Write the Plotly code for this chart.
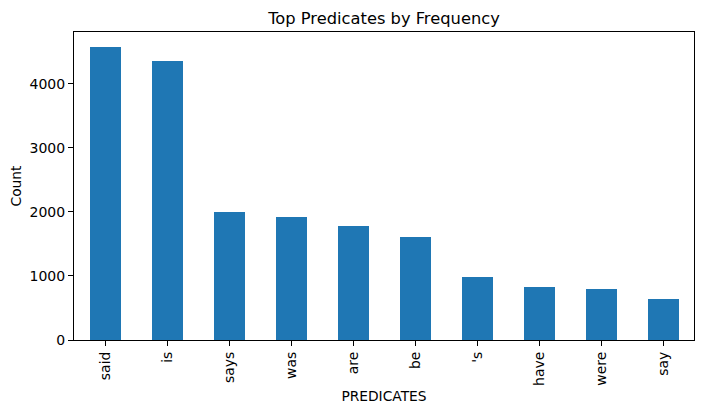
import plotly.graph_objects as go

predicates = ["said", "is", "says", "was", "are", "be", "'s", "have", "were", "say"]
counts = [4580, 4363, 1997, 1924, 1784, 1603, 981, 825, 794, 638]

fig = go.Figure(go.Bar(x=list(range(len(predicates))), y=counts, width=0.5,
                       marker=dict(color="#1f77b4", line=dict(width=0))))

font = "DejaVu Sans"
W, H = 704, 413
fig.update_layout(
    width=W, height=H,
    margin=dict(l=66, r=18, t=24, b=81, autoexpand=False),
    paper_bgcolor="white", plot_bgcolor="white",
    font=dict(family=font, size=14, color="black"),
    title=dict(text="Top Predicates by Frequency", x=376/W, xanchor="center",
               y=1 - 10/H, yanchor="middle", font=dict(size=16.3, family=font)),
    showlegend=False,
    bargap=0,
)
fig.update_xaxes(
    range=[-0.5, 9.5], tickmode="array", tickvals=list(range(len(predicates))),
    ticktext=predicates, tickangle=-90, ticks="outside", ticklen=5, tickwidth=1,
    tickcolor="black", showline=True, linecolor="black", linewidth=1, mirror=True,
    showgrid=False, zeroline=False, automargin=False,
    title=dict(text="PREDICATES", font=dict(size=13.8), standoff=6),
)
fig.update_yaxes(
    range=[0, 4809], tickmode="array", tickvals=[0, 1000, 2000, 3000, 4000],
    ticks="outside", ticklen=5, tickwidth=1, tickcolor="black",
    showline=True, linecolor="black", linewidth=1, mirror=True,
    showgrid=False, zeroline=False, automargin=False,
    title=dict(text="Count", font=dict(size=13.8), standoff=8),
)
fig.write_html("out.html")
